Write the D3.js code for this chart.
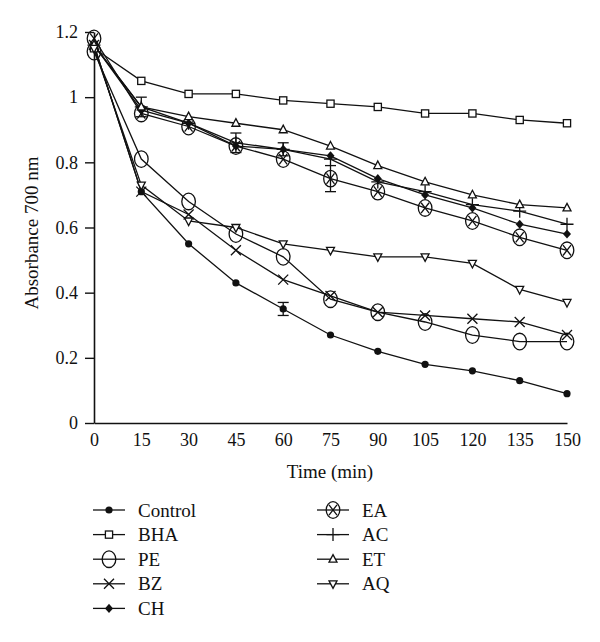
<!DOCTYPE html>
<html>
<head>
<meta charset="utf-8">
<script src="https://cdn.jsdelivr.net/npm/d3@7"></script>
<style>
  body { margin: 0; background: #fff; }
</style>
</head>
<body>
<svg id="chart" width="600" height="642"></svg>
<script>
// time points (min)
const time = [0, 15, 30, 45, 60, 75, 90, 105, 120, 135, 150]

// absorbance at 700 nm
const control = [1.16, 0.71, 0.55, 0.43, 0.35, 0.27, 0.22, 0.18, 0.16, 0.13, 0.09]
const bha = [1.15, 1.05, 1.01, 1.01, 0.99, 0.98, 0.97, 0.95, 0.95, 0.93, 0.92]
const pe = [1.14, 0.81, 0.68, 0.58, 0.51, 0.38, 0.34, 0.31, 0.27, 0.25, 0.25]
const bz = [1.16, 0.71, 0.64, 0.53, 0.44, 0.39, 0.34, 0.33, 0.32, 0.31, 0.27]
const ch = [1.16, 0.96, 0.92, 0.85, 0.84, 0.82, 0.75, 0.70, 0.66, 0.61, 0.58]
const ea = [1.18, 0.95, 0.91, 0.85, 0.81, 0.75, 0.71, 0.66, 0.62, 0.57, 0.53]
const ac = [1.16, 0.97, 0.92, 0.86, 0.84, 0.81, 0.74, 0.71, 0.67, 0.65, 0.61]
const et = [1.16, 0.97, 0.94, 0.92, 0.90, 0.85, 0.79, 0.74, 0.70, 0.67, 0.66]
const aq = [1.15, 0.73, 0.62, 0.60, 0.55, 0.53, 0.51, 0.51, 0.49, 0.41, 0.37]

// visible error bars
const errControl = [0, 0, 0, 0, 0.02, 0, 0, 0, 0, 0, 0]
const errEA = [0, 0, 0, 0, 0, 0.04, 0, 0, 0, 0, 0]
const errAC = [0, 0.03, 0, 0.03, 0.02, 0, 0, 0, 0, 0, 0]

const yTicks = [0, 0.2, 0.4, 0.6, 0.8, 1, 1.2]
const xTicks = time

const series = [
  { name: "Control", values: control, err: errControl, marker: "dot" },
  { name: "BHA", values: bha, marker: "square" },
  { name: "PE", values: pe, marker: "ring" },
  { name: "BZ", values: bz, marker: "cross" },
  { name: "CH", values: ch, marker: "diamond" },
  { name: "EA", values: ea, err: errEA, marker: "ringx" },
  { name: "AC", values: ac, err: errAC, marker: "plus" },
  { name: "ET", values: et, marker: "up" },
  { name: "AQ", values: aq, marker: "down" }
]

const serif = "'Liberation Serif', 'Times New Roman', 'DejaVu Serif', serif"

const svg = d3.select("#chart")
const x = d3.scaleLinear().domain([0, 150]).range([94, 567])
const y = d3.scaleLinear().domain([0, 1.2]).range([423, 32])

// axes
const yAxis = svg.append("g")
  .attr("transform", "translate(94,0)")
  .call(d3.axisLeft(y).tickValues(yTicks).tickFormat(d => String(d)).tickSize(9).tickSizeOuter(0).tickPadding(7))
  .attr("font-family", serif)
  .attr("font-size", 18)
yAxis.select(".domain").attr("stroke", "#111").attr("stroke-width", 1.6)
yAxis.selectAll(".tick line").attr("stroke", "#111").attr("stroke-width", 1.4)
yAxis.selectAll(".tick text").attr("fill", "#111")

const xAxis = svg.append("g")
  .attr("transform", "translate(0,423)")
  .call(d3.axisBottom(x).tickValues(xTicks).tickSize(0).tickSizeOuter(0).tickPadding(10))
  .attr("font-family", serif)
  .attr("font-size", 18)
xAxis.select(".domain").attr("stroke", "#111").attr("stroke-width", 1.6)
xAxis.selectAll(".tick text").attr("fill", "#111")

svg.append("text")
  .attr("transform", "translate(38,233) rotate(-90)")
  .attr("text-anchor", "middle")
  .attr("font-family", serif)
  .attr("font-size", 19)
  .attr("fill", "#111")
  .text("Absorbance 700 nm")

svg.append("text")
  .attr("x", 330)
  .attr("y", 478)
  .attr("text-anchor", "middle")
  .attr("font-family", serif)
  .attr("font-size", 19)
  .attr("fill", "#111")
  .text("Time (min)")

function drawMarker(g, type) {
  const sw = 1.3
  if (type === "dot") {
    g.append("circle").attr("r", 3.6).attr("fill", "#111")
  } else if (type === "square") {
    g.append("rect").attr("x", -3.6).attr("y", -3.6).attr("width", 7.2).attr("height", 7.2)
      .attr("fill", "#fff").attr("stroke", "#111").attr("stroke-width", sw)
  } else if (type === "ring" || type === "ringx") {
    g.append("ellipse").attr("rx", 6.8).attr("ry", 8.3)
      .attr("fill", "none").attr("stroke", "#111").attr("stroke-width", sw)
    if (type === "ringx") {
      g.append("path").attr("d", "M-4,-5.2L4,5.2M4,-5.2L-4,5.2")
        .attr("stroke", "#111").attr("stroke-width", sw)
    }
  } else if (type === "cross") {
    g.append("path").attr("d", "M-5,-5L5,5M5,-5L-5,5")
      .attr("stroke", "#111").attr("stroke-width", sw)
  } else if (type === "diamond") {
    g.append("path").attr("d", "M0,-4.6L4,0L0,4.6L-4,0Z").attr("fill", "#111")
  } else if (type === "plus") {
    g.append("path").attr("d", "M0,-6.5L0,6.5M-6.5,0L6.5,0")
      .attr("stroke", "#111").attr("stroke-width", sw)
  } else if (type === "up") {
    g.append("path").attr("d", "M0,-4.6L4,3L-4,3Z")
      .attr("fill", "#fff").attr("stroke", "#111").attr("stroke-width", sw)
  } else if (type === "down") {
    g.append("path").attr("d", "M0,4.6L4,-3L-4,-3Z")
      .attr("fill", "#fff").attr("stroke", "#111").attr("stroke-width", sw)
  }
}

const line = d3.line()
  .x((d, i) => x(time[i]))
  .y(d => y(d))

const plot = svg.append("g")

series.forEach(s => {
  plot.append("path")
    .datum(s.values)
    .attr("d", line)
    .attr("fill", "none")
    .attr("stroke", "#111")
    .attr("stroke-width", 1.3)
})

series.forEach(s => {
  if (!s.err) return
  s.err.forEach((e, i) => {
    if (!e) return
    const cx = x(time[i])
    const top = y(s.values[i] + e)
    const bot = y(s.values[i] - e)
    const eb = plot.append("g").attr("stroke", "#111").attr("stroke-width", 1.3)
    eb.append("line").attr("x1", cx).attr("x2", cx).attr("y1", top).attr("y2", bot)
    eb.append("line").attr("x1", cx - 5.5).attr("x2", cx + 5.5).attr("y1", top).attr("y2", top)
    eb.append("line").attr("x1", cx - 5.5).attr("x2", cx + 5.5).attr("y1", bot).attr("y2", bot)
  })
})

series.forEach(s => {
  s.values.forEach((v, i) => {
    const g = plot.append("g").attr("transform", `translate(${x(time[i])},${y(v)})`)
    drawMarker(g, s.marker)
  })
})

// legend
const legend = svg.append("g")
series.forEach((s, i) => {
  const col = i < 5 ? 0 : 1
  const row = i < 5 ? i : i - 5
  const lx = col === 0 ? 93 : 317
  const ly = 510 + row * 24.6
  const g = legend.append("g").attr("transform", `translate(${lx},${ly})`)
  g.append("line").attr("x1", 0).attr("x2", 32).attr("y1", 0).attr("y2", 0)
    .attr("stroke", "#111").attr("stroke-width", 1.3)
  drawMarker(g.append("g").attr("transform", "translate(16,0)"), s.marker)
  g.append("text")
    .attr("x", 45)
    .attr("y", 6.5)
    .attr("font-family", serif)
    .attr("font-size", 19)
    .attr("fill", "#111")
    .text(s.name)
})
</script>
</body>
</html>
